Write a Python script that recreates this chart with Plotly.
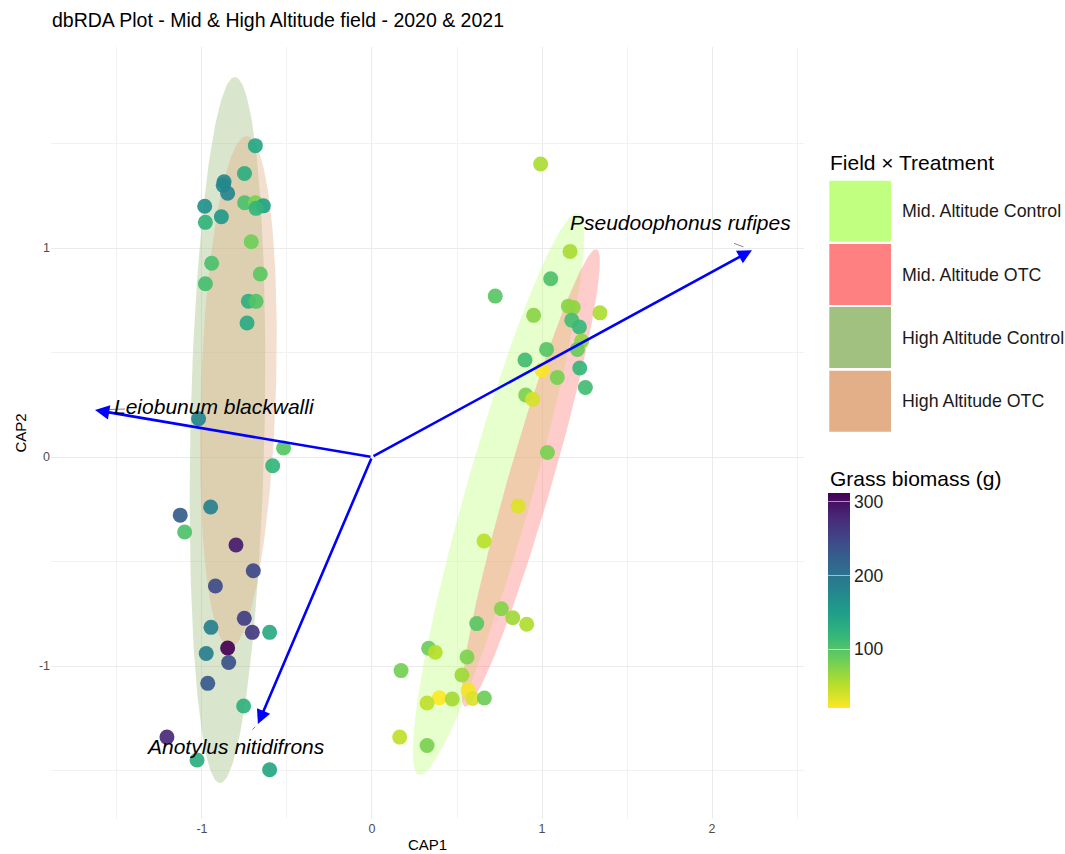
import numpy as np
import plotly.graph_objects as go

# Site scores on the first two constrained axes (CAP1, CAP2) and grass biomass (g)
cap1 = [
    # high altitude plots
    -0.686, -0.750, -0.870, -0.875, -0.849, -0.749, -0.686, -0.639, -0.682, -0.984,
    -0.886, -0.980, -0.710, -0.943, -0.657, -0.980, -0.727, -0.682, -0.735, -1.020,
    -0.520, -0.584, -0.949, -1.128, -1.102, -0.800, -0.698, -0.921, -0.751, -0.704,
    -0.602, -0.947, -0.849, -0.975, -0.843, -0.966, -0.755, -1.206, -1.029, -0.602,
    # mid altitude plots
    0.992, 1.165, 1.051, 0.725, 0.951, 1.155, 1.184, 1.341, 1.175, 1.220,
    1.233, 1.208, 1.027, 0.900, 1.222, 1.000, 1.090, 1.255, 0.904, 0.945,
    1.032, 0.859, 0.659, 0.761, 0.828, 0.910, 0.616, 0.333, 0.372, 0.559,
    0.171, 0.529, 0.565, 0.396, 0.472, 0.592, 0.661, 0.324, 0.163, 0.324,
]
cap2 = [
    1.490, 1.357, 1.317, 1.300, 1.262, 1.217, 1.217, 1.202, 1.190, 1.200,
    1.150, 1.123, 1.030, 0.927, 0.876, 0.829, 0.746, 0.745, 0.641, 0.183,
    0.043, -0.042, -0.239, -0.278, -0.359, -0.421, -0.544, -0.617, -0.772, -0.839,
    -0.839, -0.815, -0.914, -0.940, -0.983, -1.083, -1.191, -1.340, -1.450, -1.496,
    1.402, 0.984, 0.853, 0.770, 0.678, 0.722, 0.716, 0.690, 0.655, 0.622,
    0.555, 0.515, 0.515, 0.464, 0.426, 0.416, 0.381, 0.333, 0.297, 0.277,
    0.022, -0.234, -0.402, -0.726, -0.769, -0.800, -0.797, -0.915, -0.934, -0.957,
    -1.022, -1.043, -1.115, -1.152, -1.158, -1.155, -1.153, -1.177, -1.340, -1.380,
]
biomass = [
    140, 130, 175, 175, 178, 105, 80, 145, 120, 165,
    155, 122, 85, 105, 95, 108, 128, 100, 135, 180,
    98, 120, 185, 225, 103, 290, 248, 245, 258, 262,
    135, 185, 312, 187, 240, 230, 125, 278, 130, 140,
    57, 58, 103, 97, 72, 72, 70, 57, 108, 115,
    68, 88, 98, 110, 118, 22, 80, 110, 78, 38,
    80, 35, 50, 75, 62, 55, 97, 87, 52, 78,
    82, 62, 24, 20, 60, 36, 86, 48, 48, 80,
]

# Confidence ellipses per Field x Treatment group:
# centre, major half-axis vector and minor half-axis vector (CAP units)
groups = ["Mid. Altitude Control", "Mid. Altitude OTC",
          "High Altitude Control", "High Altitude OTC"]
group_colors = ["#C0FF80", "#FF8080", "#A1C181", "#E2AF88"]
ell_cx = [0.744, 0.934, -0.850, -0.786]
ell_cy = [-0.177, -0.100, 0.129, 0.313]
ell_ux = [0.468, 0.387, 0.044, 0.049]
ell_uy = [1.344, 1.094, 1.689, 1.222]
ell_vx = [0.187, 0.124, 0.218, 0.2205]
ell_vy = [-0.043, -0.029, -0.0038, -0.0058]

# Species vectors (biplot arrows) and their label positions
species = ["Pseudoophonus rufipes", "Leiobunum blackwalli", "Anotylus nitidifrons"]
vec_x = [2.235, -1.629, -0.671]
vec_y = [0.990, 0.225, -1.278]
lab_x = [1.812, -0.924, -0.800]
lab_y = [1.120, 0.244, -1.383]

x_ticks = [-1, 0, 1, 2]
y_ticks = [-1, 0, 1]
cbar_ticks = [100, 200, 300]

FONT = "Liberation Sans, Arial, Helvetica, sans-serif"

# plot area in pixels (for placing the hand-built legend)
W, H = 1065, 854
ML, MR, MT, MB = 51, 261, 47, 35
PW, PH = W - ML - MR, H - MT - MB


def px_x(px):
    return (px - ML) / PW


def px_y(py):
    return (H - MB - py) / PH


def rgba(hex_color, a):
    h = hex_color.lstrip("#")
    r, g, b = int(h[0:2], 16), int(h[2:4], 16), int(h[4:6], 16)
    return f"rgba({r},{g},{b},{a})"


fig = go.Figure()

# ellipses
t = np.linspace(0, 2 * np.pi, 200)
for i, g in enumerate(groups):
    ex = ell_cx[i] + np.cos(t) * ell_ux[i] + np.sin(t) * ell_vx[i]
    ey = ell_cy[i] + np.cos(t) * ell_uy[i] + np.sin(t) * ell_vy[i]
    fig.add_trace(go.Scatter(
        x=ex, y=ey, mode="lines", fill="toself",
        fillcolor=rgba(group_colors[i], 0.4),
        line=dict(width=0), hoverinfo="skip", showlegend=False, name=g,
    ))

# site points coloured by grass biomass
fig.add_trace(go.Scatter(
    x=cap1, y=cap2, mode="markers", showlegend=False,
    marker=dict(
        size=15, color=biomass, colorscale="Viridis", reversescale=True,
        opacity=0.92, line=dict(width=0),
        colorbar=dict(
            thickness=22, len=215, lenmode="pixels",
            x=px_x(828.3), xanchor="left", y=px_y(600.5), yanchor="middle",
            xpad=0, ypad=0, outlinewidth=0,
            tickvals=cbar_ticks, ticks="inside", ticklen=22,
            tickcolor="rgba(255,255,255,0.55)", tickwidth=1,
            tickfont=dict(family=FONT, size=17.5, color="#222222"),
        ),
    ),
))

annotations = []

# species arrows
for i, sp in enumerate(species):
    annotations.append(dict(
        x=vec_x[i], y=vec_y[i], ax=0, ay=0, xref="x", yref="y",
        axref="x", ayref="y", text="", showarrow=True,
        arrowhead=2, arrowsize=1.1, arrowwidth=2.6, arrowcolor="#0000FF",
        standoff=0, startstandoff=0,
    ))
    # short connector from the label towards the arrow tip
    fig.add_trace(go.Scatter(
        x=[vec_x[i] + 0.12 * (lab_x[i] - vec_x[i]), vec_x[i] + 0.25 * (lab_x[i] - vec_x[i])],
        y=[vec_y[i] + 0.12 * (lab_y[i] - vec_y[i]), vec_y[i] + 0.25 * (lab_y[i] - vec_y[i])],
        mode="lines", line=dict(color="#666666", width=0.8),
        hoverinfo="skip", showlegend=False,
    ))
    annotations.append(dict(
        x=lab_x[i], y=lab_y[i], xref="x", yref="y", text=f"<i>{sp}</i>",
        showarrow=False, font=dict(family=FONT, size=21, color="#000000"),
        xanchor="center", yanchor="middle",
    ))

# axis titles
annotations.append(dict(x=0.5, y=px_y(845), xref="paper", yref="paper", text="CAP1",
                        showarrow=False, font=dict(family=FONT, size=15, color="#000000"),
                        xanchor="center", yanchor="middle"))
annotations.append(dict(x=px_x(19.5), y=0.5, xref="paper", yref="paper", text="CAP2",
                        showarrow=False, textangle=-90,
                        font=dict(family=FONT, size=15, color="#000000"),
                        xanchor="center", yanchor="middle"))

# legend titles
annotations.append(dict(x=px_x(828), y=px_y(162.5), xref="paper", yref="paper",
                        text="Field × Treatment", showarrow=False,
                        font=dict(family=FONT, size=21, color="#000000"),
                        xanchor="left", yanchor="middle"))
annotations.append(dict(x=px_x(828), y=px_y(478), xref="paper", yref="paper",
                        text="Grass biomass (g)", showarrow=False,
                        font=dict(family=FONT, size=21, color="#000000"),
                        xanchor="left", yanchor="middle"))

# fill legend keys
shapes = []
key_top = [180.7, 244.0, 307.0, 370.7]
key_h = 61.0
for i, g in enumerate(groups):
    shapes.append(dict(
        type="rect", xref="paper", yref="paper",
        x0=px_x(829.3), x1=px_x(891), y0=px_y(key_top[i] + key_h), y1=px_y(key_top[i]),
        fillcolor=group_colors[i], line=dict(width=0), layer="above",
    ))
    annotations.append(dict(
        x=px_x(900), y=px_y(key_top[i] + key_h / 2), xref="paper", yref="paper",
        text=g, showarrow=False, font=dict(family=FONT, size=17.8, color="#1A1A1A"),
        xanchor="left", yanchor="middle",
    ))

grid_major = "#EBEBEB"
grid_minor = "#F2F2F2"

fig.update_layout(
    width=W, height=H,
    margin=dict(l=ML, r=MR, t=MT, b=MB, pad=0),
    paper_bgcolor="white", plot_bgcolor="white",
    title=dict(text="dbRDA Plot - Mid & High Altitude field - 2020 & 2021",
               x=52 / W, xref="container", xanchor="left",
               y=1 - 20 / H, yref="container", yanchor="middle",
               font=dict(family=FONT, size=19.5, color="#000000")),
    xaxis=dict(
        range=[-1.888, 2.541], tickvals=x_ticks, ticktext=[str(v) for v in x_ticks],
        showgrid=True, gridcolor=grid_major, gridwidth=1.2, zeroline=False,
        showline=False, ticks="", tickfont=dict(family=FONT, size=12.5, color="#4D4D4D"),
        minor=dict(tickvals=[-1.5, -0.5, 0.5, 1.5, 2.5], showgrid=True,
                   gridcolor=grid_minor, gridwidth=1),
    ),
    yaxis=dict(
        range=[-1.732, 1.962], tickvals=y_ticks, ticktext=[str(v) for v in y_ticks],
        showgrid=True, gridcolor=grid_major, gridwidth=1.2, zeroline=False,
        showline=False, ticks="", tickfont=dict(family=FONT, size=12.5, color="#4D4D4D"),
        minor=dict(tickvals=[-1.5, -0.5, 0.5, 1.5], showgrid=True,
                   gridcolor=grid_minor, gridwidth=1),
    ),
    annotations=annotations,
    shapes=shapes,
    showlegend=False,
)

fig.write_html("out.html")
